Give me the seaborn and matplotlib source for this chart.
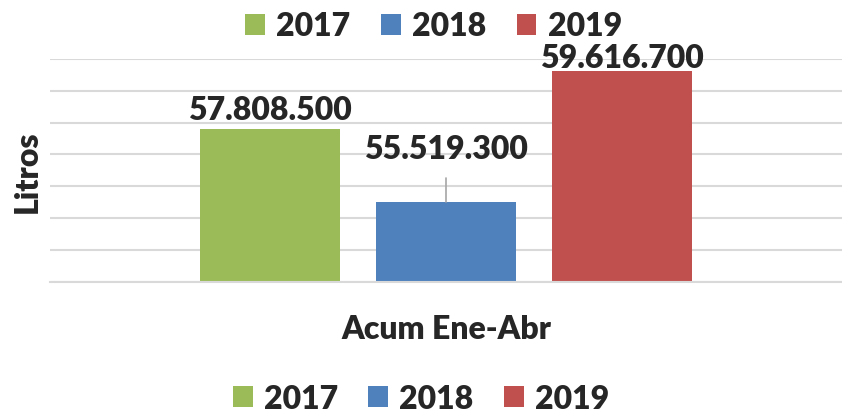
import pandas as pd
import numpy as np
import matplotlib
matplotlib.use("Agg")
import matplotlib.pyplot as plt
import seaborn as sns
from matplotlib import font_manager

# data
periodo = ["Acum Ene-Abr"]
anios = ["2017", "2018", "2019"]
litros = [57808500, 55519300, 59616700]
etiquetas = ["57.808.500", "55.519.300", "59.616.700"]
colores = ["#9BBB59", "#4F81BD", "#C0504D"]

print(sorted({(f.name, f.weight) for f in font_manager.fontManager.ttflist if f.name in ("Lato", "Open Sans", "Roboto", "Inter")}))

df = pd.DataFrame({"periodo": periodo * 3, "anio": anios, "litros": litros})

sns.set_style("white")
plt.rcParams["font.family"] = ["Lato", "DejaVu Sans"]
plt.rcParams["font.weight"] = "heavy"
peso = "heavy"
tam = 23

fig = plt.figure(figsize=(8.42, 4.14), dpi=100)
ax = fig.add_axes([50 / 842, 1 - 282.7 / 414, 792 / 842, (282.7 - 60) / 414])

sns.barplot(data=df, x="periodo", y="litros", hue="anio", palette=colores,
            width=0.8, gap=0.21, ax=ax, saturation=1, legend=True,
            edgecolor="none")
handles, labels = ax.get_legend_handles_labels()
ax.get_legend().remove()

ax.set_xlim(-0.6, 0.6)
ax.set_ylim(53e6, 60e6)
ax.set_yticks(np.arange(53e6, 60e6 + 1, 1e6))
ax.set_yticklabels([])
ax.tick_params(axis="y", length=0)
ax.grid(axis="y", color="#D9D9D9", linewidth=1.5)
ax.set_axisbelow(True)
for s in ["left", "right", "top"]:
    ax.spines[s].set_visible(False)
ax.spines["bottom"].set_color("#D9D9D9")
ax.spines["bottom"].set_linewidth(1.5)

ax.tick_params(axis="x", length=0, pad=23, labelsize=tam)
for t in ax.get_xticklabels():
    t.set_fontweight(peso)
ax.set_xlabel("")
ax.set_ylabel("Litros", fontsize=tam, fontweight=peso)
ax.yaxis.set_label_coords(-0.01, 0.5)

# value labels
offsets = [7.2, 31.7, 2.9]
bars = ax.patches[:3]
for bar, txt, off in zip(bars, etiquetas, offsets):
    cx = bar.get_x() + bar.get_width() / 2
    h = bar.get_height()
    ax.annotate(txt, xy=(cx, h), xytext=(0, off), textcoords="offset points",
                ha="center", va="baseline", fontsize=tam, fontweight=peso)
# leader line of the 2018 label
b = bars[1]
cxb = b.get_x() + b.get_width() / 2
ax.plot([cxb, cxb], [b.get_height(), b.get_height() + 0.75e6], color="#A6A6A6", lw=1.2)

leg_kw = dict(loc="center", ncol=3, frameon=False,
              prop={"size": tam, "weight": peso},
              handlelength=0.62, handleheight=0.62, handletextpad=0.35,
              columnspacing=0.95)
fig.legend(handles, labels, bbox_to_anchor=(0.515, 0.935), **leg_kw)
fig.legend(handles, labels, bbox_to_anchor=(0.5, 0.036), **leg_kw)

fig.savefig("out.png", dpi=100)
